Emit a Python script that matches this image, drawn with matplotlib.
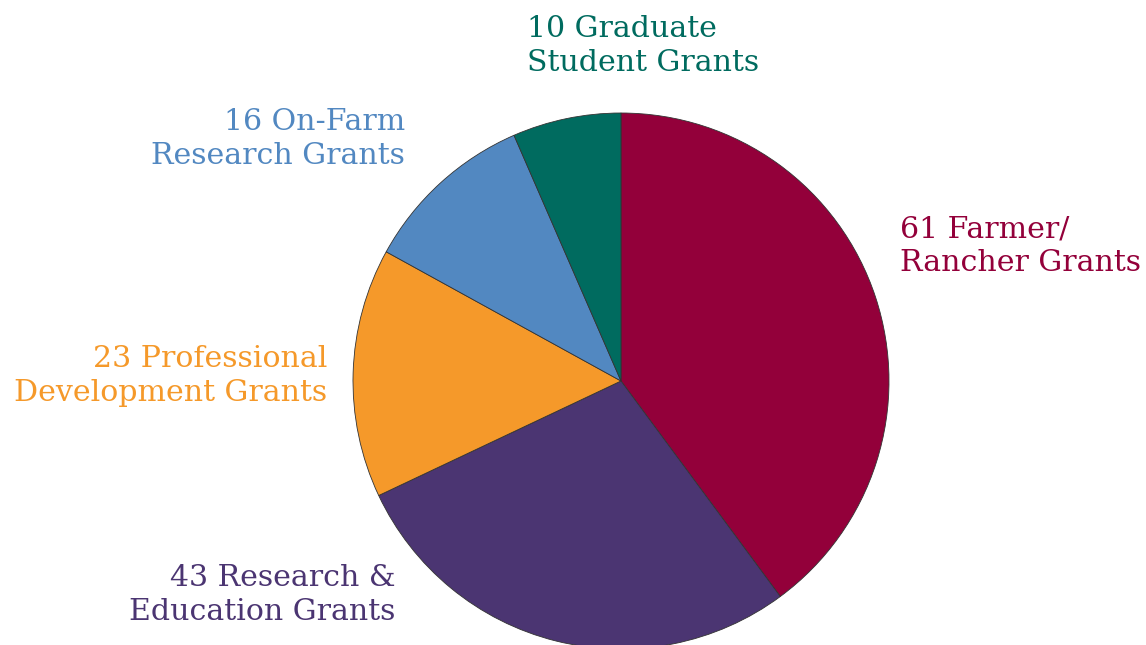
import matplotlib
matplotlib.use('Agg')
import matplotlib.pyplot as plt

# Grant counts, clockwise from 12 o'clock
labels = ["61 Farmer/\nRancher Grants",
          "43 Research &\nEducation Grants",
          "23 Professional\nDevelopment Grants",
          "16 On-Farm\nResearch Grants",
          "10 Graduate\nStudent Grants"]
counts = [61, 43, 23, 16, 10]
colors = ["#93003A", "#4B3572", "#F5992A", "#5288C1", "#006B5F"]

W, H = 1146, 645
fig = plt.figure(figsize=(W / 100, H / 100), dpi=100)
ax = fig.add_axes([0, 0, 1, 1])
ax.set_xlim(0, W)
ax.set_ylim(0, H)
ax.set_aspect('equal')
ax.axis('off')

ax.pie(counts, colors=colors, startangle=90, counterclock=False,
       center=(621, H - 381), radius=268,
       wedgeprops=dict(edgecolor='#333333', linewidth=0.6))
ax.set_xlim(0, W)
ax.set_ylim(0, H)

# label positions in pixels (x, y from top), alignment
label_pos = [(900, 246, 'left'),
             (395, 595, 'right'),
             (327, 376, 'right'),
             (405, 139, 'right'),
             (527, 46, 'left')]

for lab, col, (x, y, ha) in zip(labels, colors, label_pos):
    ax.text(x, H - y, lab, color=col, ha=ha, va='center', multialignment=ha,
            fontsize=21.6, family='DejaVu Serif', linespacing=1.27)

plt.savefig("out.png", dpi=100)
